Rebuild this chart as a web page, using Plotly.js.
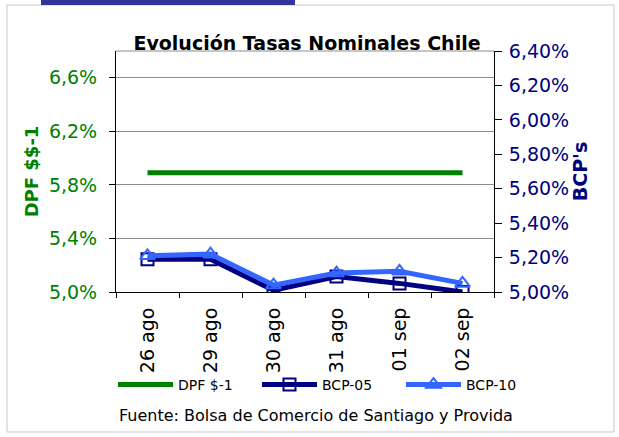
<!DOCTYPE html>
<html>
<head>
<meta charset="utf-8">
<script src="https://cdn.plot.ly/plotly-3.0.1.min.js"></script>
<style>html,body{margin:0;padding:0;background:#fff;}#chart{width:619px;height:437px;}</style>
</head>
<body>
<div id="chart"></div>
<script>
// ---- data ----
const dates = ['26 ago', '29 ago', '30 ago', '31 ago', '01 sep', '02 sep'];
const dpf = [5.89, 5.89, 5.89, 5.89, 5.89, 5.89];
const bcp05 = [5.19, 5.19, 5.01, 5.09, 5.05, 5.00];
const bcp10 = [5.21, 5.22, 5.04, 5.11, 5.12, 5.05];
const seriesNames = ['DPF $-1', 'BCP-05', 'BCP-10'];

// ---- layout constants ----
const W = 619, H = 437;
const L = 116, R = 125, T = 51, B = 145;
const pw = W - L - R, ph = H - T - B;
const px = x => (x - L) / pw;          // pixel -> paper x
const py = y => (H - B - y) / ph;      // pixel -> paper y
const FONT = 'DejaVu Sans, Arial, sans-serif';
const GREEN = '#008000', NAVY = '#000080', LBLUE = '#3366ff';

const traces = [
  {x: dates, y: dpf, name: seriesNames[0], type: 'scatter', mode: 'lines',
   line: {color: GREEN, width: 5}, yaxis: 'y'},
  {x: dates, y: bcp05, name: seriesNames[1], type: 'scatter', mode: 'lines+markers',
   line: {color: NAVY, width: 5},
   marker: {symbol: 'square-open', size: 12, color: NAVY, line: {color: NAVY, width: 2}}, yaxis: 'y2'},
  {x: dates, y: bcp10, name: seriesNames[2], type: 'scatter', mode: 'lines+markers',
   line: {color: LBLUE, width: 5},
   marker: {symbol: 'triangle-up-open', size: 13, color: LBLUE, line: {color: LBLUE, width: 2}}, yaxis: 'y2'}
];

const layout = {
  width: W, height: H,
  margin: {l: L, r: R, t: T, b: B, pad: 0, autoexpand: false},
  paper_bgcolor: '#ffffff', plot_bgcolor: '#ffffff',
  separators: ',.',
  font: {family: FONT, size: 19, color: '#000'},
  showlegend: true,
  title: {text: '<b>Evolución Tasas Nominales Chile</b>',
          font: {family: FONT, size: 19, color: '#000'},
          xref: 'container', yref: 'container', x: 307 / W, xanchor: 'center',
          y: 1 - 43 / H, yanchor: 'middle'},
  xaxis: {type: 'category', range: [-0.5, 5.5], showline: true, linecolor: '#000', linewidth: 1,
          ticks: 'outside', ticklen: 5, tickcolor: '#000', tickson: 'boundaries',
          tickangle: -90, showgrid: false, zeroline: false,
          ticklabelstandoff: 7,
          tickfont: {family: FONT, size: 19, color: '#000'}, fixedrange: true},
  yaxis: {range: [5.0, 6.8], tick0: 5.0, dtick: 0.4, tickformat: '.1f', ticksuffix: '%',
          showline: true, linecolor: '#000', linewidth: 1,
          ticks: 'outside', ticklen: 6, tickcolor: '#000',
          ticklabelstandoff: 8,
          showgrid: true, gridcolor: '#8c8c8c', gridwidth: 1, zeroline: false,
          tickfont: {family: FONT, size: 19, color: GREEN},
          title: {text: '<b>DPF $$-1</b>', font: {family: FONT, size: 18, color: GREEN}, standoff: 5}},
  yaxis2: {overlaying: 'y', side: 'right', range: [5.0, 6.4], tick0: 5.0, dtick: 0.2,
           tickformat: '.2f', ticksuffix: '%',
           showline: true, linecolor: '#000', linewidth: 1,
           ticks: 'outside', ticklen: 7, tickcolor: '#000',
           ticklabelstandoff: 3,
           showgrid: false, zeroline: false,
           tickfont: {family: FONT, size: 19, color: NAVY},
           title: {text: "<b>BCP's</b>", font: {family: FONT, size: 19, color: NAVY}, standoff: 1}},
  legend: {orientation: 'h', x: px(113), xanchor: 'left',
           y: py(369), yanchor: 'top', itemwidth: 55,
           font: {family: FONT, size: 14, color: '#000'}, entrywidth: 74, entrywidthmode: 'pixels',
           bgcolor: 'rgba(0,0,0,0)', borderwidth: 0, traceorder: 'normal'},
  shapes: [
    // top plot border (grey)
    {type: 'line', xref: 'paper', yref: 'paper', x0: 0, x1: 1, y0: 1, y1: 1,
     line: {color: '#8c8c8c', width: 1}},
    // outer chart frame
    {type: 'rect', xref: 'paper', yref: 'paper', x0: px(7), x1: px(614), y0: py(432), y1: py(5),
     line: {color: '#c8c8c8', width: 1}, layer: 'below'},
    // slide header bar
    {type: 'rect', xref: 'paper', yref: 'paper', x0: px(41), x1: px(295), y0: py(5), y1: py(0),
     fillcolor: '#333399', line: {width: 0}, layer: 'below'}
  ],
  annotations: [
    {text: 'Fuente: Bolsa de Comercio de Santiago y Provida', xref: 'paper', yref: 'paper',
     x: px(315.5), y: py(415), xanchor: 'center', yanchor: 'middle', showarrow: false,
     font: {family: FONT, size: 16, color: '#000'}}
  ]
};

Plotly.newPlot('chart', traces, layout, {staticPlot: true, displayModeBar: false});
</script>
</body>
</html>
